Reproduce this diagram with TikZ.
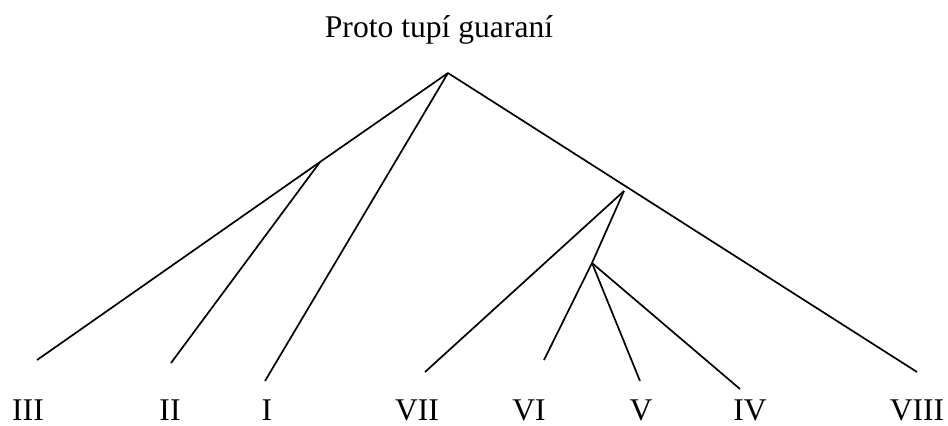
\documentclass[tikz,border=0pt]{standalone}
\usepackage{fontspec}
\setmainfont{Liberation Serif}
\usetikzlibrary{positioning}

\begin{document}
\begin{tikzpicture}[x=0.5pt,y=-0.5pt,line width=0.85pt,
  lang/.style={anchor=base,inner sep=0pt,font=\fontsize{15.8}{19}\selectfont}]
  \useasboundingbox (0,0) rectangle (948,425);

  \node[lang] (T)    at (439,37)  {Proto tupí guaraní};
  \node[lang] (III)  at (28,420)  {III};
  \node[lang] (II)   at (170,420) {II};
  \node[lang] (I)    at (267,420) {I};
  \node[lang] (VII)  at (417,420) {VII};
  \node[lang] (VI)   at (529,420) {VI};
  \node[lang] (V)    at (641,420) {V};
  \node[lang] (IV)   at (750,420) {IV};
  \node[lang] (VIII) at (917,420) {VIII};

  % branch points
  \coordinate (P) at (448,73);
  \coordinate (a) at (320,162);
  \coordinate (b) at (624,191);
  \coordinate (c) at (592,263);

  % ends of the branches
  \coordinate (e3) at (37,360);
  \coordinate (e2) at (171,363);
  \coordinate (e1) at (265,381);
  \coordinate (e7) at (425,372);
  \coordinate (e6) at (544,360);
  \coordinate (e5) at (640,381);
  \coordinate (e4) at (740,389);
  \coordinate (e8) at (917,372);

  \path[draw] (P) edge (a)
                  edge (e1)
                  edge (e8)
              (a) edge (e3)
                  edge (e2)
              (b) edge (e7)
                  edge (c)
              (c) edge (e6)
                  edge (e5)
                  edge (e4);
\end{tikzpicture}
\end{document}
